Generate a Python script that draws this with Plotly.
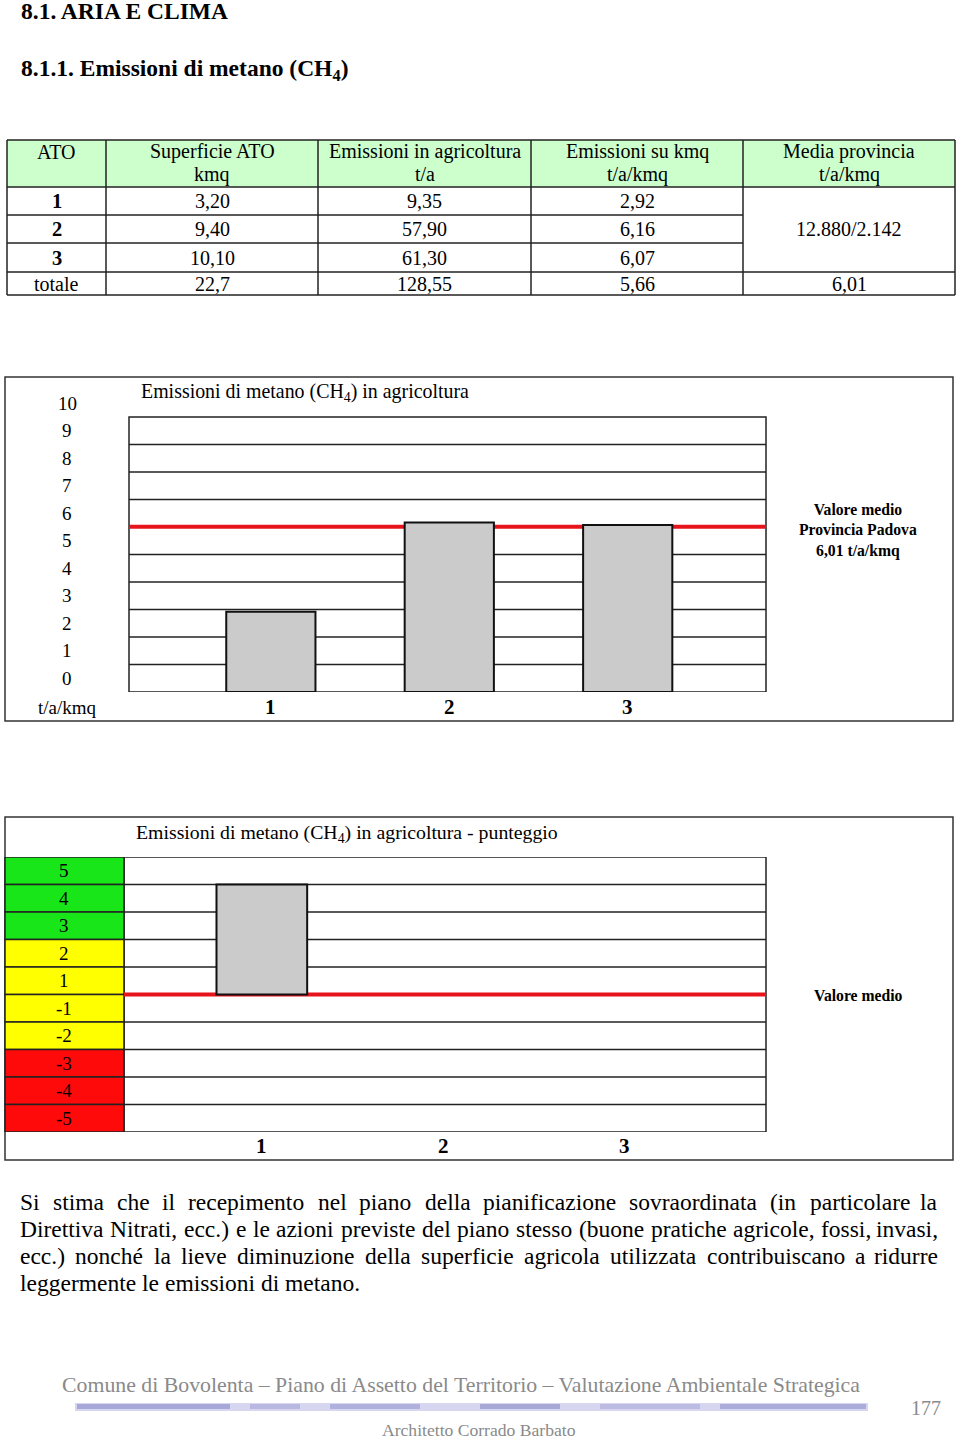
import plotly.graph_objects as go

W, H = 960, 1439
SERIF = "Liberation Serif, Times New Roman, serif"

# ---------------- data ----------------
table_header_1 = ["ATO", "Superficie ATO", "Emissioni in agricoltura", "Emissioni su kmq", "Media provincia"]
table_header_2 = ["", "kmq", "t/a", "t/a/kmq", "t/a/kmq"]
ato_labels = ["1", "2", "3", "totale"]
superficie_kmq = ["3,20", "9,40", "10,10", "22,7"]
emissioni_ta = ["9,35", "57,90", "61,30", "128,55"]
emissioni_kmq_txt = ["2,92", "6,16", "6,07", "5,66"]
media_provincia_txt = ["12.880/2.142", "6,01"]

ato_categories = ["1", "2", "3"]
emissioni_kmq_values = [2.92, 6.16, 6.07]
media_provincia_value = 6.01
chart1_ticks = list(range(0, 11))

punteggio_values = [4, 0, 0]
punteggio_medio = 0
punteggio_labels = [5, 4, 3, 2, 1, -1, -2, -3, -4, -5]

para_lines = [
    "Si stima che il recepimento nel piano della pianificazione sovraordinata (in particolare la",
    "Direttiva Nitrati, ecc.) e le azioni previste del piano stesso (buone pratiche agricole, fossi, invasi,",
    "ecc.) nonché la lieve diminuzione della superficie agricola utilizzata contribuiscano a ridurre",
    "leggermente le emissioni di metano.",
]

# ---------------- helpers ----------------
def px(x):
    return x / W

def py(y):
    return 1 - y / H

annotations = []
shapes = []
GRID = "#222"

def ann(text, x, y, size, bold=False, color="black", xanchor="center", xref="paper", yref="paper"):
    if bold:
        text = "<b>" + text + "</b>"
    annotations.append(dict(
        text=text, x=px(x) if xref == "paper" else x,
        y=py(y) if yref == "paper" else y,
        xref=xref, yref=yref, xanchor=xanchor, yanchor="middle",
        showarrow=False, font=dict(family=SERIF, size=size, color=color),
        borderpad=0,
    ))

def hline(x0, x1, y, color=GRID, width=1.5):
    shapes.append(dict(type="line", xref="paper", yref="paper",
                       x0=px(x0), x1=px(x1), y0=py(y), y1=py(y),
                       line=dict(color=color, width=width), layer="below"))

def vline(x, y0, y1, color=GRID, width=1.5):
    shapes.append(dict(type="line", xref="paper", yref="paper",
                       x0=px(x), x1=px(x), y0=py(y0), y1=py(y1),
                       line=dict(color=color, width=width), layer="below"))

def rect(x0, y0, x1, y1, fill="rgba(0,0,0,0)", line="#222", width=1.5):
    shapes.append(dict(type="rect", xref="paper", yref="paper",
                       x0=px(x0), x1=px(x1), y0=py(y1), y1=py(y0),
                       fillcolor=fill, line=dict(color=line, width=width), layer="below"))

# ---------------- headings ----------------
ann("8.1. ARIA E CLIMA", 20, 10.5, 23.5, bold=True, xanchor="left")
ann("8.1.1. Emissioni di metano (CH<sub>4</sub>)", 20, 70, 23.5, bold=True, xanchor="left")

# ---------------- table ----------------
col_x = [7, 106, 318, 531, 743, 955]
row_y = [140, 187, 215, 243, 272, 295]
rect(col_x[0], row_y[0], col_x[-1], row_y[1], fill="#ccffcc", line="rgba(0,0,0,0)", width=0)
hline(col_x[0], col_x[-1], row_y[0])
hline(col_x[0], col_x[-1], row_y[1])
hline(col_x[0], col_x[4], row_y[2])
hline(col_x[0], col_x[4], row_y[3])
hline(col_x[0], col_x[-1], row_y[4])
hline(col_x[0], col_x[-1], row_y[5])
for cx in col_x:
    vline(cx, row_y[0], row_y[5])

TSZ = 20
for i in range(5):
    cx = (col_x[i] + col_x[i + 1]) / 2
    ann(table_header_1[i], cx, 152, TSZ)
    if table_header_2[i]:
        ann(table_header_2[i], cx, 174, TSZ)

body_cols = [ato_labels, superficie_kmq, emissioni_ta, emissioni_kmq_txt]
for r in range(4):
    cy = (row_y[r + 1] + row_y[r + 2]) / 2
    for c, col in enumerate(body_cols):
        cx = (col_x[c] + col_x[c + 1]) / 2
        is_bold = (c == 0 and r < 3)
        ann(col[r], cx, cy, 20.5 if is_bold else TSZ, bold=is_bold)
ann(media_provincia_txt[0], (col_x[4] + col_x[5]) / 2, (row_y[1] + row_y[4]) / 2, TSZ)
ann(media_provincia_txt[1], (col_x[4] + col_x[5]) / 2, (row_y[4] + row_y[5]) / 2, TSZ)

# ---------------- chart 1 ----------------
fig = go.Figure()
xpos = list(range(len(ato_categories)))

fig.add_trace(go.Bar(
    x=xpos, y=emissioni_kmq_values, width=0.5, xaxis="x", yaxis="y",
    marker=dict(color="#cbcbcb", line=dict(color="#111", width=2)),
    showlegend=False, hoverinfo="skip"))

rect(5, 377, 953, 721, line="#333", width=1.5)
ann("Emissioni di metano (CH<sub>4</sub>) in agricoltura", 140, 393, 19.9, xanchor="left")
# plot frame + grid (data coordinates)
shapes.append(dict(type="rect", xref="x domain", yref="y", x0=0, x1=1,
                   y0=chart1_ticks[0], y1=chart1_ticks[-1],
                   fillcolor="white", line=dict(color=GRID, width=1.5), layer="below"))
for v in chart1_ticks[1:-1]:
    shapes.append(dict(type="line", xref="x domain", yref="y", x0=0, x1=1, y0=v, y1=v,
                       line=dict(color=GRID, width=1.5), layer="below"))
shapes.append(dict(type="line", xref="x domain", yref="y", x0=0, x1=1,
                   y0=media_provincia_value, y1=media_provincia_value,
                   line=dict(color="#e8141b", width=4), layer="below"))
for v in chart1_ticks:
    ann(str(v), 67, v + 0.5, 19, yref="y")
ann("t/a/kmq", 67, 707, 19)
for i, c in zip(xpos, ato_categories):
    ann(c, i, 707, 21, bold=True, xref="x")
ann("Valore medio<br>Provincia Padova<br>6,01 t/a/kmq", 858, 530, 15.7, bold=True)

# ---------------- chart 2 ----------------
fig.add_trace(go.Bar(
    x=xpos, y=punteggio_values, base=0, width=0.5, xaxis="x2", yaxis="y2",
    marker=dict(color="#cbcbcb",
                line=dict(color="#111", width=[2 if v != 0 else 0 for v in punteggio_values])),
    showlegend=False, hoverinfo="skip"))

rect(5, 817, 953, 1160, line="#333", width=1.5)
ann("Emissioni di metano (CH<sub>4</sub>) in agricoltura - punteggio", 135, 833, 19.8, xanchor="left")

def score_color(v):
    if v >= 3:
        return "#19e619"
    if v >= -2:
        return "#ffff00"
    return "#ff0a0a"

shapes.append(dict(type="rect", xref="x2 domain", yref="y2", x0=0, x1=1,
                   y0=min(punteggio_labels), y1=max(punteggio_labels),
                   fillcolor="white", line=dict(color=GRID, width=1.5), layer="below"))
for v in punteggio_labels:
    lo = v - 1 if v > 0 else v
    hi = lo + 1
    shapes.append(dict(type="rect", xref="paper", yref="y2", x0=px(5), x1=px(124),
                       y0=lo, y1=hi, fillcolor=score_color(v),
                       line=dict(color=GRID, width=1.5), layer="below"))
    ann(str(v), 64, (lo + hi) / 2, 19, yref="y2")
for v in range(min(punteggio_labels) + 1, max(punteggio_labels)):
    shapes.append(dict(type="line", xref="x2 domain", yref="y2", x0=0, x1=1, y0=v, y1=v,
                       line=dict(color=GRID, width=1.5), layer="below"))
shapes.append(dict(type="line", xref="x2 domain", yref="y2", x0=0, x1=1,
                   y0=punteggio_medio, y1=punteggio_medio,
                   line=dict(color="#e8141b", width=4), layer="below"))
for i, c in zip(xpos, ato_categories):
    ann(c, i, 1146, 21, bold=True, xref="x2")
ann("Valore medio", 858, 995, 15.7, bold=True)

# ---------------- paragraph ----------------
TW = dict(a=444, b=500, c=444, d=500, e=444, f=333, g=500, h=500, i=278, j=278, k=500,
          l=278, m=778, n=500, o=500, p=500, q=500, r=333, s=389, t=278, u=500, v=500,
          w=722, x=500, y=500, z=444)
TW.update({"S": 556, "D": 722, "N": 722, ",": 250, ".": 250, "(": 333, ")": 333, "é": 444})

def text_w(s, size):
    return sum(TW.get(ch, 500) for ch in s) * size / 1000

PSZ = 23.5
left, right = 19, 939
for i, line in enumerate(para_lines):
    words = line.split(" ")
    widths = [text_w(w, PSZ) for w in words]
    y = 1202 + 27 * i
    if i < len(para_lines) - 1:
        gap = (right - left - sum(widths)) / (len(words) - 1)
    else:
        gap = 0.25 * PSZ
    x = left
    for k, (w, wd) in enumerate(zip(words, widths)):
        if i < len(para_lines) - 1 and k == len(words) - 1:
            ann(w, right, y, PSZ, xanchor="right")
        else:
            ann(w, x, y, PSZ, xanchor="left")
        x += wd + gap

# ---------------- footer ----------------
ann("Comune di Bovolenta \u2013 Piano di Assetto del Territorio \u2013 Valutazione Ambientale Strategica",
    461, 1385, 21.8, color="#8a8a8a")
rect(75, 1403, 868, 1411, fill="#d6d6f0", line="rgba(0,0,0,0)", width=0)
for a, b, c in [(77, 230, "#a8a8d8"), (250, 300, "#b8b8e0"), (330, 420, "#b0b0dc"),
                (480, 560, "#a8a8d6"), (600, 700, "#bcbce2"), (720, 866, "#acacda")]:
    rect(a, 1404, b, 1409, fill=c, line="rgba(0,0,0,0)", width=0)
ann("177", 926, 1408, 20, color="#8a8a8a")
ann("Architetto Corrado Barbato", 479, 1429.5, 17.6, color="#8a8a8a")

# ---------------- layout ----------------
px_per_unit = (692 - 417) / (chart1_ticks[-1] - chart1_ticks[0])
y1_top_units = chart1_ticks[-1] + 1
fig.update_layout(
    width=W, height=H, margin=dict(l=0, r=0, t=0, b=0),
    paper_bgcolor="white", plot_bgcolor="rgba(0,0,0,0)", showlegend=False,
    xaxis=dict(domain=[px(129), px(766)], anchor="y", range=[-0.795, 2.775],
               visible=False, fixedrange=True),
    yaxis=dict(domain=[py(692), py(692 - y1_top_units * px_per_unit)], anchor="x",
               range=[0, y1_top_units], visible=False, fixedrange=True),
    xaxis2=dict(domain=[px(124), px(766)], anchor="y2", range=[-0.76, 2.78],
                visible=False, fixedrange=True),
    yaxis2=dict(domain=[py(1132), py(857)], anchor="x2", range=[-5, 5],
                visible=False, fixedrange=True),
    shapes=shapes, annotations=annotations,
)

fig.write_html("out.html")
